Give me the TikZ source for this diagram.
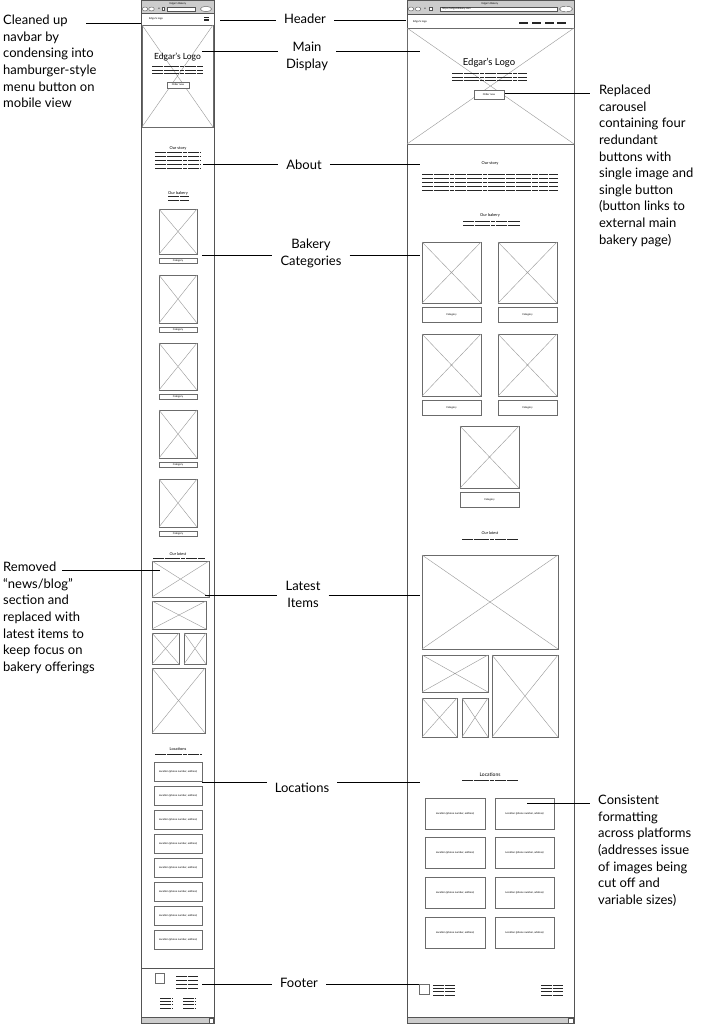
\documentclass[tikz,border=0pt]{standalone}
\usepackage{fontspec}
\setmainfont{Lato}
\usetikzlibrary{positioning,calc}
\definecolor{framegray}{rgb}{0.33,0.33,0.33}
\definecolor{bargray}{rgb}{0.80,0.80,0.80}
\definecolor{boxgray}{rgb}{0.42,0.42,0.42}
\definecolor{crossgray}{rgb}{0.62,0.62,0.62}

\newcommand{\lblfont}{\fontsize{13}{16.6}\selectfont}
\newcommand{\tinyfont}{\fontsize{2.6}{3}\selectfont}
\newcommand{\headfont}{\fontsize{4}{5}\selectfont}

\tikzset{
	frame/.style={draw=framegray,line width=0.9pt},
	bar/.style={draw=framegray,fill=bargray,line width=0.6pt},
	imgbox/.style={draw=boxgray,line width=0.7pt},
	xline/.style={draw=crossgray,line width=0.45pt},
	btn/.style={draw=boxgray,fill=white,line width=0.5pt},
	fake/.style={draw=black!85,line width=1pt,dash pattern=on 11pt off 0.7pt on 6pt off 0.7pt on 9pt off 0.7pt on 4pt off 0.7pt},
	leader/.style={draw=black,line width=0.75pt},
	lbl/.style={font=\lblfont,align=center,inner xsep=8pt,inner ysep=0pt},
	note/.style={font=\lblfont,align=left,inner sep=0pt},
	tinytext/.style={font=\tinyfont,inner sep=0pt},
	headtext/.style={font=\headfont,inner sep=0pt},
	logotext/.style={font=\fontsize{8.5}{9}\selectfont,inner sep=0pt},
	icon/.style={draw=framegray,fill=white,line width=0.4pt}
}

% placeholder image: box with a cross
\newcommand{\ximg}[4]{%
	\draw[imgbox] (#1,#2) rectangle (#3,#4);
	\draw[xline] (#1,#2) -- (#3,#4) (#1,#4) -- (#3,#2);}

% button with drop shadow
\newcommand{\shbtn}[5]{%
	\fill[black!80] (#1+1,#2+1) rectangle (#3+1,#4+1);
	\draw[btn] (#1,#2) rectangle (#3,#4);
	\node[tinytext] at ({(#1+#3)/2},{(#2+#4)/2}) {#5};}

% rows of unreadable filler text
\newcommand{\fakelines}[5]{%
	\foreach \k in {1,...,#4} {\draw[fake] (#1,{#3+(\k-1)*#5}) -- (#2,{#3+(\k-1)*#5});}}

\begin{document}
\begin{tikzpicture}[x=1pt,y=-1pt]
	\useasboundingbox (0,0) rectangle (704,1024);
	
	%% mobile wireframe
	\draw[frame] (141,0.5) rectangle (214,1023.5);
	\draw[bar] (141,0.5) rectangle (214,13);
	\node[tinytext] at (178,3.5) {Edgar's Bakery};
	\draw[icon] (145,9) ellipse (2.8 and 2);
	\draw[icon] (151.5,9) ellipse (2.8 and 2);
	\node[tinytext] at (159,9) {\textbf{x}};
	\draw[icon] (162,7.5) rectangle (164.5,10.5);
	\draw[icon] (167,6.8) rectangle (195,11);
	\draw[icon] (206,9) ellipse (5.5 and 2.6);
	\node[tinytext,anchor=west] at (149,19) {Edgar's logo};
	\foreach \yy in {17.5,19,20.5}
		\draw[black!85,line width=0.6pt] (204,\yy) -- (209,\yy);
	\ximg{142}{25}{213}{127}
	\node[logotext] at (177.5,57) {Edgar's Logo};
	\fakelines{152}{203}{67}{3}{3.5}
	\shbtn{167}{82}{189}{88}{Order now}
	
	\node[headtext] at (178,148) {Our story};
	\fakelines{155}{201}{153}{5}{4}
	\node[headtext] at (178,193) {Our bakery};
	\fakelines{168}{189}{197}{2}{3.5}
	\foreach \t/\b in {209/254,275/323,343/390,410/458,479/527}{
		\ximg{159}{\t}{197}{\b}
		\shbtn{159}{\b+4}{197}{\b+9}{Category}
	}
	
	\node[headtext] at (178,554) {\itshape Our latest};
	\draw[fake,line width=0.8pt] (153,558) -- (205,558);
	\ximg{152}{561}{209}{597}
	\ximg{152}{601}{206}{629}
	\ximg{152}{633}{179}{664}
	\ximg{184}{633}{206}{664}
	\ximg{152}{668}{205}{733}
	
	\node[headtext] at (178,749) {Locations};
	\draw[fake,line width=0.8pt] (155,754) -- (202,754);
	\foreach \t in {762,786,810,834,858,882,906,930}{
		\shbtn{154}{\t}{202}{\t+19}{Location (phone number, address)}
	}
	
	\draw[framegray,line width=0.5pt] (141,968) -- (214,968);
	\draw[imgbox] (155,973) rectangle (164,983);
	\fakelines{176}{198}{976}{4}{4}
	\fakelines{160}{172}{998}{4}{3.4}
	\fakelines{183}{195}{998}{4}{3.4}
	\draw[bar] (141,1017) rectangle (214,1023.5);
	\draw[icon] (209,1018) rectangle (213,1023);
	
	%% desktop wireframe
	\draw[frame] (407,0.5) rectangle (574,1023.5);
	\draw[bar] (407,0.5) rectangle (574,14);
	\node[tinytext] at (490,3.5) {Edgar's Bakery};
	\draw[icon] (411,9) ellipse (2.8 and 2);
	\draw[icon] (418,9) ellipse (2.8 and 2);
	\node[tinytext] at (425,9) {\textbf{x}};
	\draw[icon] (429,7.5) rectangle (432,10.5);
	\draw[icon] (440,6.8) rectangle (557,11.2);
	\node[tinytext,anchor=west] at (442,9) {https://edgarsbakery.com};
	\draw[icon] (566,9) ellipse (6.5 and 2.8);
	\node[tinytext,anchor=west] at (413,22) {Edgar's logo};
	\foreach \xx in {519,532,545,557}
		\draw[black!85,line width=1.6pt] (\xx,23) -- (\xx+9,23);
	\ximg{407}{28}{574}{144}
	\node[logotext,font=\fontsize{9.5}{10}\selectfont] at (489,63) {Edgar's Logo};
	\fakelines{452}{527}{74}{3}{3.5}
	\shbtn{474}{90}{504}{99}{Order now}
	
	\node[headtext] at (490,163) {Our story};
	\fakelines{422}{558}{175}{5}{4}
	\node[headtext] at (490,215) {Our bakery};
	\fakelines{463}{520}{222}{2}{4}
	\foreach \t/\b in {242/303,334/396}{
		\ximg{422}{\t}{481}{\b}
		\ximg{498}{\t}{557}{\b}
		\shbtn{422}{\b+4}{481}{\b+19}{Category}
		\shbtn{498}{\b+4}{557}{\b+19}{Category}
	}
	\ximg{460}{426}{519}{488}
	\shbtn{460}{492}{519}{507}{Category}
	
	\node[headtext] at (490,533) {\itshape Our latest};
	\draw[fake,line width=0.9pt] (462,539) -- (518,539);
	\ximg{422}{555}{558}{649}
	\ximg{422}{655}{488}{692}
	\ximg{492}{655}{558}{737}
	\ximg{422}{698}{457}{737}
	\ximg{462}{698}{488}{737}
	
	\node[headtext,font=\fontsize{5}{6}\selectfont] at (490,775) {Locations};
	\draw[fake,line width=0.9pt] (462,780) -- (518,780);
	\foreach \t in {798,837,877,917}{
		\shbtn{425}{\t}{485}{\t+31}{Location (phone number, address)}
		\shbtn{495}{\t}{554}{\t+31}{Location (phone number, address)}
	}
	
	\draw[imgbox] (419,984) rectangle (429,994);
	\fakelines{433}{455}{985}{4}{3.4}
	\fakelines{541}{563}{985}{4}{3.4}
	\draw[bar] (407,1017) rectangle (574,1023.5);
	\draw[icon] (568,1018) rectangle (573,1023);
	
	%% section labels between the two wireframes
	\node[lbl] (header) at (305,19) {Header};
	\node[lbl] (maindisp) at (307,56.5) {Main\\Display};
	\node[lbl] (about) at (304,165) {About};
	\node[lbl] (bakery) at (311,253.5) {Bakery\\Categories};
	\node[lbl] (latest) at (303,594.5) {Latest\\Items};
	\node[lbl] (locations) at (302,788) {Locations};
	\node[lbl] (footer) at (299,983) {Footer};
	
	\coordinate (m-header) at (220,20);
	\coordinate (d-header) at (406,20);
	\coordinate (m-main) at (202,51);
	\coordinate (d-main) at (420,51);
	\coordinate (m-about) at (203,164.5);
	\coordinate (d-about) at (420,164.5);
	\coordinate (m-bakery) at (202,255);
	\coordinate (d-bakery) at (420,255);
	\coordinate (m-latest) at (205,595.5);
	\coordinate (d-latest) at (420,595.5);
	\coordinate (m-loc) at (202,782);
	\coordinate (d-loc) at (420,782);
	\coordinate (m-foot) at (202,984);
	\coordinate (d-foot) at (419,984);
	
	\foreach \a/\l in {header/header,main/maindisp,about/about,bakery/bakery,latest/latest,loc/locations,foot/footer}{
		\draw[leader] (m-\a) -- (\l.west |- m-\a);
		\draw[leader] (\l.east |- d-\a) -- (d-\a);
	}
	
	%% design notes
	\node[note,anchor=north west] (navnote) at (3,15) {Cleaned up\\navbar by\\condensing into\\hamburger-style\\menu button on\\mobile view};
	\node[note,anchor=north west] (newsnote) at (3,562) {Removed\\``news/blog''\\section and\\replaced with\\latest items to\\keep focus on\\bakery offerings};
	\node[note,anchor=north west] (carouselnote) at (599,85) {Replaced\\carousel\\containing four\\redundant\\buttons with\\single image and\\single button\\(button links to\\external main\\bakery page)};
	\node[note,anchor=north west] (formatnote) at (598,795) {Consistent\\formatting\\across platforms\\(addresses issue\\of images being\\cut off and\\variable sizes)};
	
	\coordinate (navnote-end) at (86,23);
	\coordinate (m-nav) at (141,23);
	\coordinate (newsnote-end) at (62,570);
	\coordinate (m-news) at (160,570);
	\coordinate (d-button) at (505,93.5);
	\coordinate (carouselnote-end) at (590,93.5);
	\coordinate (d-card) at (527,803);
	\coordinate (formatnote-end) at (590,803);
	\draw[leader] (navnote-end) -- (m-nav);
	\draw[leader] (newsnote-end) -- (m-news);
	\draw[leader] (d-button) -- (carouselnote-end);
	\draw[leader] (d-card) -- (formatnote-end);
\end{tikzpicture}
\end{document}
